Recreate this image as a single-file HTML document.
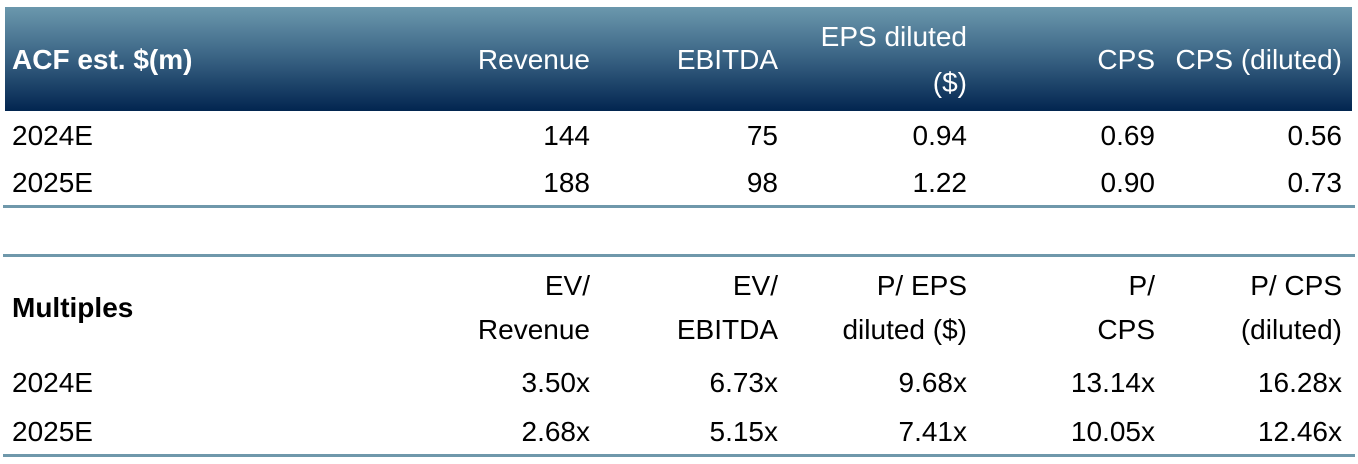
<!DOCTYPE html>
<html><head><style>
body{margin:0;width:1358px;height:464px;background:#fff;position:relative;overflow:hidden;font-family:"Liberation Sans",sans-serif;font-size:28px;color:#000}
.t{position:absolute;height:32px;line-height:32px;white-space:nowrap}
.w{color:#fff}
.b{font-weight:bold}
.hdr{position:absolute;left:5px;width:1347px;top:7px;height:104px;background:linear-gradient(#6b98ad,#3d6787 45%,#022550)}
.ln{position:absolute;left:3px;width:1352px;height:3px;background:#6f98ab}
</style></head><body>
<div class="hdr"></div>
<div class="ln" style="top:205px"></div>
<div class="ln" style="top:254px"></div>
<div class="ln" style="top:454px"></div>

<div class="t w b" style="left:12px;top:44px">ACF est. $(m)</div>
<div class="t w" style="right:768px;top:44px">Revenue</div>
<div class="t w" style="right:580px;top:44px">EBITDA</div>
<div class="t w" style="right:391px;top:21px">EPS diluted</div>
<div class="t w" style="right:391px;top:67px">($)</div>
<div class="t w" style="right:203px;top:44px">CPS</div>
<div class="t w" style="right:16px;top:44px">CPS (diluted)</div>

<div class="t" style="left:12px;top:120px">2024E</div>
<div class="t" style="right:768px;top:120px">144</div>
<div class="t" style="right:580px;top:120px">75</div>
<div class="t" style="right:391px;top:120px">0.94</div>
<div class="t" style="right:203px;top:120px">0.69</div>
<div class="t" style="right:16px;top:120px">0.56</div>

<div class="t" style="left:12px;top:167px">2025E</div>
<div class="t" style="right:768px;top:167px">188</div>
<div class="t" style="right:580px;top:167px">98</div>
<div class="t" style="right:391px;top:167px">1.22</div>
<div class="t" style="right:203px;top:167px">0.90</div>
<div class="t" style="right:16px;top:167px">0.73</div>

<div class="t b" style="left:12px;top:292px">Multiples</div>
<div class="t" style="right:768px;top:270px">EV/</div>
<div class="t" style="right:768px;top:314px">Revenue</div>
<div class="t" style="right:580px;top:270px">EV/</div>
<div class="t" style="right:580px;top:314px">EBITDA</div>
<div class="t" style="right:391px;top:270px">P/ EPS</div>
<div class="t" style="right:391px;top:314px">diluted ($)</div>
<div class="t" style="right:203px;top:270px">P/</div>
<div class="t" style="right:203px;top:314px">CPS</div>
<div class="t" style="right:16px;top:270px">P/ CPS</div>
<div class="t" style="right:16px;top:314px">(diluted)</div>

<div class="t" style="left:12px;top:367px">2024E</div>
<div class="t" style="right:768px;top:367px">3.50x</div>
<div class="t" style="right:580px;top:367px">6.73x</div>
<div class="t" style="right:391px;top:367px">9.68x</div>
<div class="t" style="right:203px;top:367px">13.14x</div>
<div class="t" style="right:16px;top:367px">16.28x</div>

<div class="t" style="left:12px;top:416px">2025E</div>
<div class="t" style="right:768px;top:416px">2.68x</div>
<div class="t" style="right:580px;top:416px">5.15x</div>
<div class="t" style="right:391px;top:416px">7.41x</div>
<div class="t" style="right:203px;top:416px">10.05x</div>
<div class="t" style="right:16px;top:416px">12.46x</div>
</body></html>
